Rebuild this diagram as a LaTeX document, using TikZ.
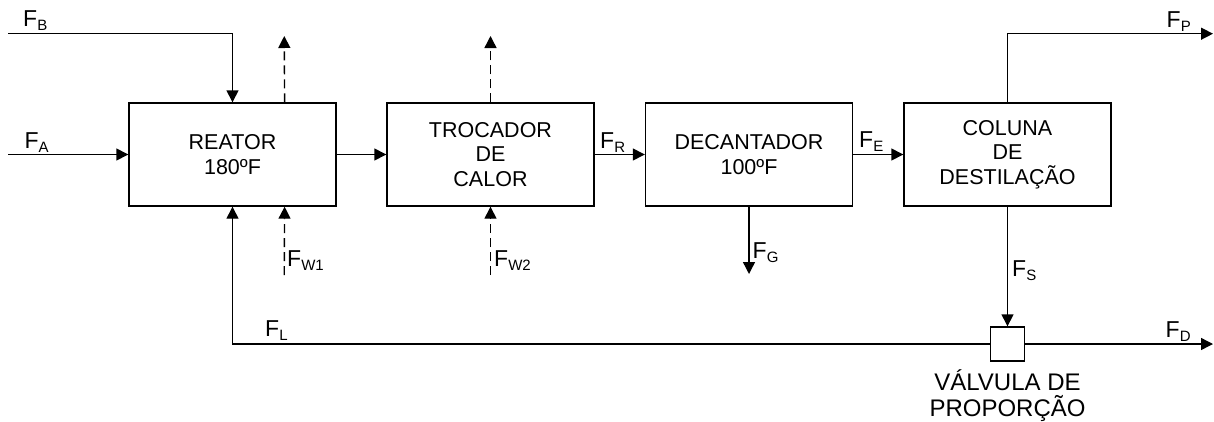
\documentclass[tikz,border=0pt]{standalone}
\usepackage{fontspec}
\setmainfont{Liberation Sans}
\usetikzlibrary{arrows.meta,calc}
\newcommand{\flow}[1]{{\fontsize{23}{24}\selectfont F}\raisebox{-4pt}{\fontsize{15}{16}\selectfont #1}}
\begin{document}
\begin{tikzpicture}[x=1pt,y=-1pt,
  line width=1.4pt,
  >={Triangle[length=12pt,width=12pt]},
  unit/.style={draw, minimum width=207pt, minimum height=103pt, inner sep=0pt,
    align=center, font=\fontsize{21.5}{24.5}\selectfont},
  valve/.style={draw, minimum size=34pt, inner sep=0pt, fill=white},
  flowlbl/.style={anchor=base west, inner sep=0pt},
  wline/.style={dash pattern=on 9pt off 5pt}]
\useasboundingbox (0,0) rectangle (1214,421);

\node[unit] (R) at (232.5,154.5) {REATOR\\180ºF};
\node[unit] (T) at (490.5,154.5) {TROCADOR\\DE\\CALOR};
\node[unit] (D) at (749,154.5) {DECANTADOR\\100ºF};
\node[unit] (C) at (1007.5,154.5) {COLUNA\\DE\\DESTILAÇÃO};
\node[valve] (V) at (1007.5,344) {};

\coordinate (fa) at (8,154.5);
\coordinate (fb) at (8,33.7);
\coordinate (w1top) at (284.25,36);
\coordinate (w1bot) at (284.25,275);
\coordinate (w2top) at (490.5,36);
\coordinate (w2bot) at (490.5,275);
\coordinate (fg) at (749,274);
\coordinate (fp) at (1213,33.7);
\coordinate (fd) at (1213,344);
\coordinate (fl) at (232.5,344);

\draw[->] (fa) -- (R.west);
\draw[->] (fb) -| (R.north);
\draw[->,wline] ($(R.north)!0.5!(R.north east)$) -- (w1top);
\draw[->] (R.east) -- (T.west);
\draw[->,wline] (T.north) -- (w2top);
\draw[->] (T.east) -- (D.west);
\draw[->] (D.east) -- (C.west);
\draw[->] (C.north) |- (fp);
\draw[->] (D.south) -- (fg);
\draw[->] (C.south) -- (V.north);
\draw[->] (V.east) -- (fd);
\draw[->] (V.west) -- (fl) -- (R.south);
\draw[->,wline] (w1bot) -- ($(R.south)!0.5!(R.south east)$);
\draw[->,wline] (w2bot) -- (T.south);

\node[flowlbl] (lb) at (22.5,26) {\flow{B}};
\node[flowlbl] (la) at (24,148) {\flow{A}};
\node[flowlbl] (lr) at (599.5,148) {\flow{R}};
\node[flowlbl] (le) at (858.5,147) {\flow{E}};
\node[flowlbl] (lp) at (1166,27) {\flow{P}};
\node[flowlbl] (lw1) at (286.5,266) {\flow{W1}};
\node[flowlbl] (lw2) at (493.5,266) {\flow{W2}};
\node[flowlbl] (lg) at (752,258) {\flow{G}};
\node[flowlbl] (ls) at (1011.5,276) {\flow{S}};
\node[flowlbl] (ll) at (264.5,336) {\flow{L}};
\node[flowlbl] (ld) at (1165,337) {\flow{D}};
\node[align=center, font=\fontsize{24}{26}\selectfont, inner sep=0pt, anchor=base] (vl) at (1007.5,416) {VÁLVULA DE\\PROPORÇÃO};
\end{tikzpicture}
\end{document}
